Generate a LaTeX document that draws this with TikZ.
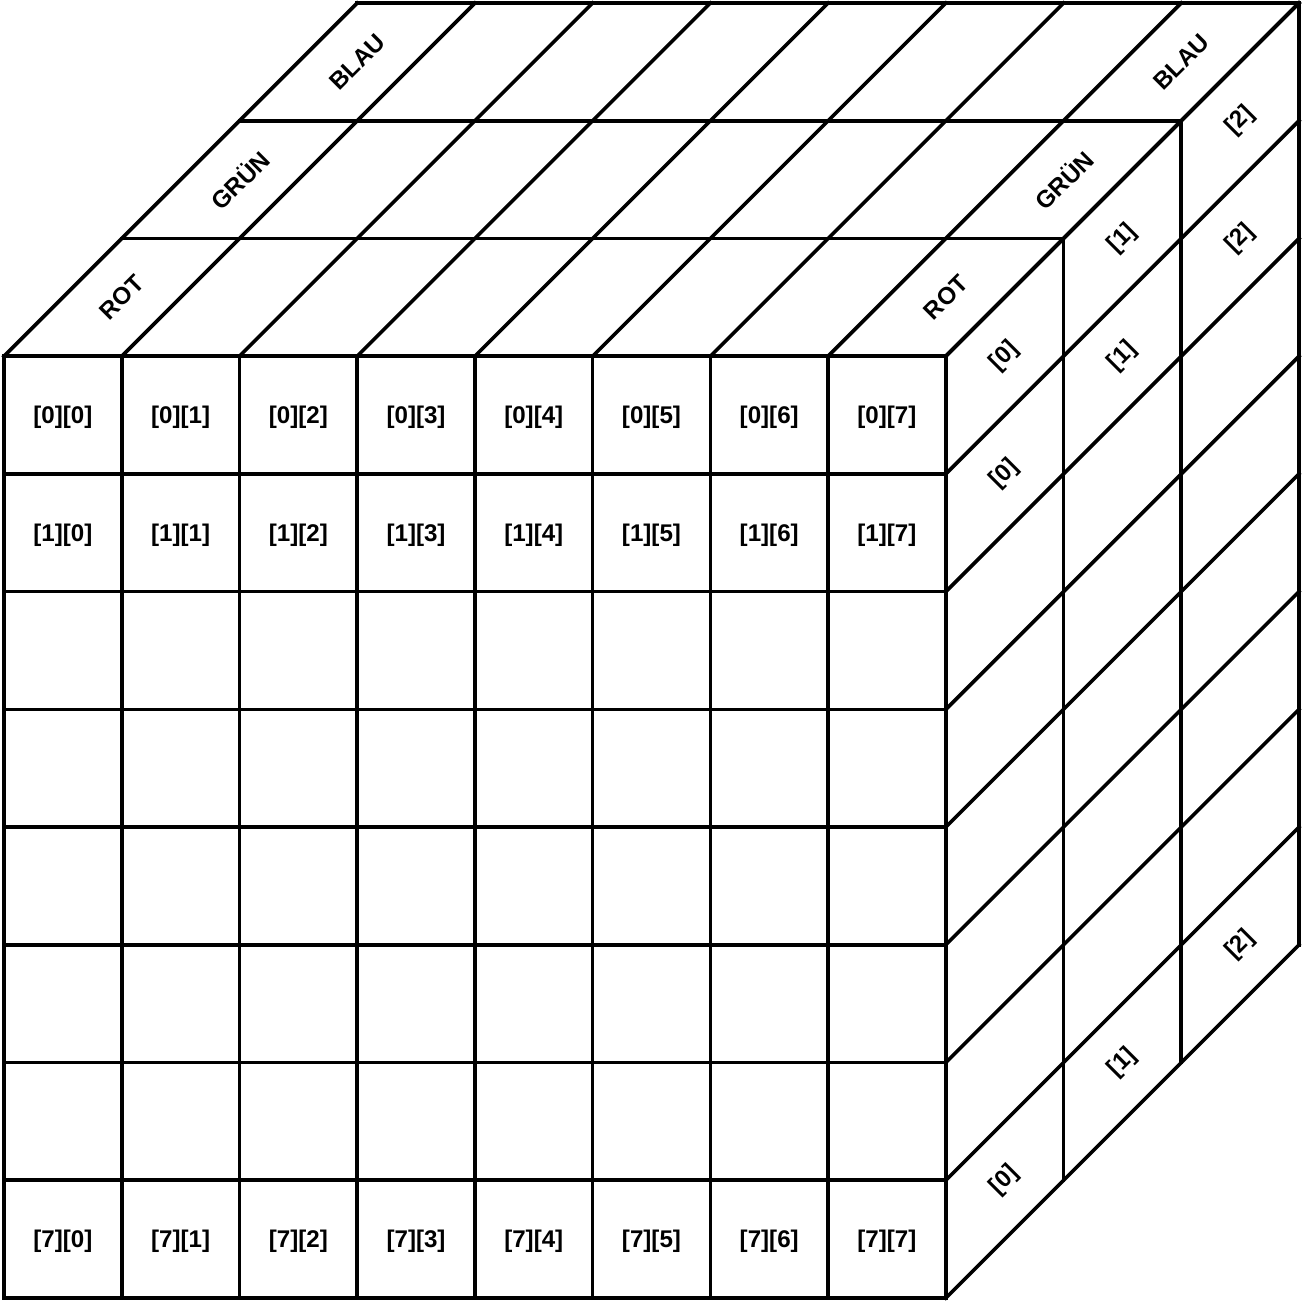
\documentclass[tikz,border=0pt]{standalone}
\usepackage{fontspec}
\setmainfont{Liberation Sans}
\tikzset{
  gridline/.style = { line width=1.05pt, line cap=rect },
  cell/.style     = { font=\bfseries\fontsize{7}{8}\selectfont, inner sep=0pt },
  slant/.style    = { cell, rotate=45 }
}

\begin{document}
\begin{tikzpicture}[x=1.2cm,y=1.2cm]
      \useasboundingbox (-0.034,-0.034) rectangle (11.034,11.026);
      % front face
      \foreach \i in {0,...,8} {
        \draw[gridline] (\i,0) -- (\i,8);
        \draw[gridline] (0,\i) -- (8,\i);
      }
      % top face
      \foreach \i in {0,...,8} \draw[gridline] (\i,8) -- ++(3,3);
      \foreach \k in {1,2,3} \draw[gridline] (\k,8+\k) -- ++(8,0);
      % right face
      \foreach \i in {0,...,8} \draw[gridline] (8,\i) -- ++(3,3);
      \foreach \k in {1,2,3} \draw[gridline] (8+\k,\k) -- ++(0,8);
      % front labels
      \foreach \r in {0,1,7}
        \foreach \c in {0,...,7}
          \node[cell] (f\r\c) at (\c+0.5,7.48-\r) {[\r][\c]};
      % top labels
      \foreach \k/\colname in {0/ROT,1/GRÜN,2/BLAU} {
        \node[slant] (tl\k) at (\k+1,8.5+\k) {\colname};
        \node[slant] (tr\k) at (\k+8,8.5+\k) {\colname};
      }
      % side labels
      \foreach \r in {0,1,7}
        \foreach \k in {0,1,2}
          \node[slant] (s\r\k) at (8.5+\k,8-\r+\k) {[\k]};
\end{tikzpicture}
\end{document}
